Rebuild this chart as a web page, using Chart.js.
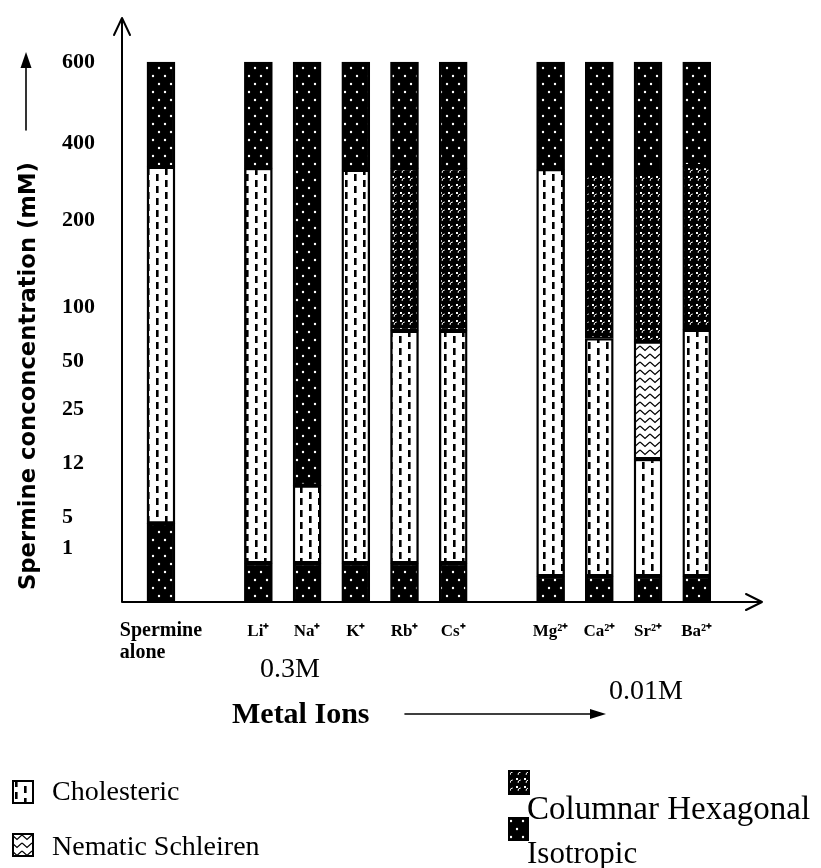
<!DOCTYPE html>
<html>
<head>
<meta charset="utf-8">
<script src="https://cdn.jsdelivr.net/npm/chart.js@4.4.1/dist/chart.umd.min.js"></script>
<style>
html, body { margin: 0; padding: 0; background: #fff; }
#wrap { position: relative; width: 821px; height: 868px; overflow: hidden; color: #000;
  font-family: "Liberation Serif", "Times New Roman", serif; }
#c { position: absolute; left: 0; top: 0; }
.t { position: absolute; white-space: nowrap; line-height: 1; }
.sw { position: absolute; }
#ytitle { left: 27px; top: 376px; transform: translate(-50%, -50%) rotate(-90deg);
  font-family: "DejaVu Sans", sans-serif; font-weight: bold; font-size: 22.7px; }
#conc1 { left: 290px; top: 668px; transform: translate(-50%, -50%); font-size: 28px; }
#conc2 { left: 646px; top: 690px; transform: translate(-50%, -50%); font-size: 28px; }
#metal { left: 232px; top: 713px; transform: translateY(-50%); font-size: 30px; font-weight: bold; }
.lg { font-size: 28px; transform: translateY(-50%); }
.lg2 { font-size: 31px; transform: translateY(-50%); }
</style>
</head>
<body>
<div id="wrap">
  <canvas id="c" width="821" height="868"></canvas>
  <div class="t" id="ytitle">Spermine conconcentration (mM)</div>
  <div class="t" id="conc1">0.3M</div>
  <div class="t" id="conc2">0.01M</div>
  <div class="t" id="metal">Metal Ions</div>

  <canvas class="sw" id="swChol" width="22" height="24" style="left:12px;top:780px"></canvas>
  <div class="t lg" style="left:52px;top:791px">Cholesteric</div>
  <canvas class="sw" id="swNem" width="22" height="24" style="left:12px;top:833px"></canvas>
  <div class="t lg" style="left:52px;top:846px">Nematic Schleiren</div>
  <canvas class="sw" id="swCol" width="22" height="25" style="left:508px;top:770px"></canvas>
  <div class="t lg2" style="left:527px;top:808px;font-size:33px">Columnar Hexagonal</div>
  <canvas class="sw" id="swIso" width="21" height="24" style="left:508px;top:817px"></canvas>
  <div class="t lg2" style="left:527px;top:852px">Isotropic</div>
</div>
<script>
// categories along the x axis ("" = empty slot)
const categories = ["Spermine alone", "", "Li⁺", "Na⁺", "K⁺", "Rb⁺", "Cs⁺", "", "Mg²⁺", "Ca²⁺", "Sr²⁺", "Ba²⁺"];
const yTicks = [1, 5, 12, 25, 50, 100, 200, 400, 600];

// phase boundaries, in mM (null = phase absent)
const isoLowTop = [4.2, null, 0.72, 0.72, 0.72, 0.72, 0.72, null, 0.48, 0.48, 0.48, 0.48];
const cholTop   = [338, null, 335, 9.1, 330, 78, 78, null, 332, 71, 13, 79];
const nemTop    = [null, null, null, null, null, null, null, null, null, null, 68, null];
const colTop    = [null, null, null, null, null, 335, 335, null, null, 325, 325, 340];
const barTop    = [600, null, 600, 600, 600, 600, 600, null, 600, 600, 600, 600];

// the figure's y axis is not linear: height (0..1 of the 600 mark) where each tick sits
const axisLevels = [0.1, 0.157, 0.257, 0.356, 0.446, 0.546, 0.707, 0.85, 1.0];

function toLevel(v) {
    if (v <= yTicks[0]) return v / yTicks[0] * axisLevels[0];
    for (let i = 1; i < yTicks.length; i++) {
        if (v <= yTicks[i]) {
            const f = (v - yTicks[i - 1]) / (yTicks[i] - yTicks[i - 1]);
            return axisLevels[i - 1] + f * (axisLevels[i] - axisLevels[i - 1]);
        }
    }
    return axisLevels[axisLevels.length - 1];
}

// --- patterns ---
function tile(w, h, draw) {
    const c = document.createElement("canvas");
    c.width = w; c.height = h;
    draw(c.getContext("2d"), w, h);
    return c;
}
function dot(g, x, y, r) { g.beginPath(); g.arc(x, y, r, 0, 7); g.fill(); }

const tiles = {
    iso: tile(12, 16, (g, w, h) => {
        g.fillStyle = "#000"; g.fillRect(0, 0, w, h);
        g.fillStyle = "#fff";
        dot(g, 3, 4, 1.2); dot(g, 9, 12, 1.2);
    }),
    chol: tile(18, 12, (g, w, h) => {
        g.fillStyle = "#fff"; g.fillRect(0, 0, w, h);
        g.fillStyle = "#000";
        g.fillRect(3, 0, 2.6, 7);
        g.fillRect(12, 6, 2.6, 7);
        g.fillRect(12, -6, 2.6, 7);
    }),
    nem: tile(10, 8, (g, w, h) => {
        g.fillStyle = "#fff"; g.fillRect(0, 0, w, h);
        g.strokeStyle = "#000"; g.lineWidth = 1.3;
        g.beginPath(); g.moveTo(0, 2); g.lineTo(5, 6.5); g.lineTo(10, 2); g.stroke();
    }),
    col: tile(8, 8, (g, w, h) => {
        g.fillStyle = "#000"; g.fillRect(0, 0, w, h);
        g.fillStyle = "#fff";
        g.fillRect(0, 0, 2, 2);
        g.strokeStyle = "#fff"; g.lineWidth = 1;
        g.beginPath(); g.arc(4.5, 4.5, 2.4, Math.PI * 0.95, Math.PI * 1.55); g.stroke();
    })
};
const ctx = document.getElementById("c").getContext("2d");
const pat = {};
for (const k in tiles) pat[k] = ctx.createPattern(tiles[k], "repeat");

function swatch(id, key) {
    const c = document.getElementById(id), g = c.getContext("2d");
    g.fillStyle = g.createPattern(tiles[key], "repeat");
    g.fillRect(0, 0, c.width, c.height);
    g.strokeStyle = "#000"; g.lineWidth = 2;
    g.strokeRect(1, 1, c.width - 2, c.height - 2);
}
swatch("swChol", "chol");
swatch("swNem", "nem");
swatch("swCol", "col");
swatch("swIso", "iso");

// --- floating segments built from the boundary arrays ---
const segs = { isoLow: [], chol: [], nem: [], col: [], isoHigh: [] };
categories.forEach((c, i) => {
    if (barTop[i] == null) return;
    segs.isoLow.push({ x: i, y: [0, toLevel(isoLowTop[i])] });
    segs.chol.push({ x: i, y: [toLevel(isoLowTop[i]), toLevel(cholTop[i])] });
    let under = cholTop[i];
    if (nemTop[i] != null) { segs.nem.push({ x: i, y: [toLevel(under), toLevel(nemTop[i])] }); under = nemTop[i]; }
    if (colTop[i] != null) { segs.col.push({ x: i, y: [toLevel(under), toLevel(colTop[i])] }); under = colTop[i]; }
    segs.isoHigh.push({ x: i, y: [toLevel(under), toLevel(barTop[i])] });
});

const serif = "'Liberation Serif', 'Times New Roman', serif";

const drawExtras = {
    id: "extras",
    afterDraw(chart) {
        const g = chart.ctx;
        const { left, right, top, bottom } = chart.chartArea;
        g.save();
        g.strokeStyle = "#000"; g.fillStyle = "#000"; g.lineWidth = 2;
        g.lineCap = "round"; g.lineJoin = "round";
        // axes with open arrowheads
        g.beginPath();
        g.moveTo(left, bottom); g.lineTo(left, top);
        g.moveTo(left - 8, top + 17); g.lineTo(left, top); g.lineTo(left + 8, top + 17);
        g.moveTo(left, bottom); g.lineTo(right, bottom);
        g.moveTo(right - 16, bottom - 8); g.lineTo(right, bottom); g.lineTo(right - 16, bottom + 8);
        g.stroke();

        // arrow beside the y title
        g.lineWidth = 1.6;
        g.beginPath(); g.moveTo(26, 130); g.lineTo(26, 64); g.stroke();
        g.beginPath(); g.moveTo(26, 52); g.lineTo(20.5, 68); g.lineTo(31.5, 68); g.closePath(); g.fill();
        // arrow after "Metal Ions"
        g.beginPath(); g.moveTo(405, 714); g.lineTo(594, 714); g.stroke();
        g.beginPath(); g.moveTo(606, 714); g.lineTo(590, 709); g.lineTo(590, 719); g.closePath(); g.fill();

        // first category label, two lines, left aligned
        const xs = chart.scales.x;
        g.font = "bold 20px " + serif;
        const words = categories[0].split(" ");
        const x0 = xs.getPixelForValue(0) - g.measureText(words[0]).width / 2;
        g.textAlign = "left"; g.textBaseline = "middle";
        g.fillText(words[0], x0, 631);
        g.fillText(words[1], x0, 653);
        g.restore();
    }
};

const barStyle = (label, bg) => ({
    label, backgroundColor: bg, borderColor: "#000", borderWidth: 2.4,
    borderSkipped: false, grouped: false, barThickness: 28
});

new Chart(ctx, {
    type: "bar",
    data: {
        datasets: [
            Object.assign(barStyle("Isotropic", pat.iso), { data: segs.isoLow }),
            Object.assign(barStyle("Cholesteric", pat.chol), { data: segs.chol }),
            Object.assign(barStyle("Nematic Schleiren", pat.nem), { data: segs.nem }),
            Object.assign(barStyle("Columnar Hexagonal", pat.col), { data: segs.col }),
            Object.assign(barStyle("Isotropic", pat.iso), { data: segs.isoHigh })
        ]
    },
    options: {
        responsive: false,
        animation: false,
        layout: { padding: { left: 62, right: 59, top: 18, bottom: 0 } },
        plugins: { legend: { display: false }, tooltip: { enabled: false } },
        scales: {
            x: {
                type: "linear", min: -0.8, max: 12.34, offset: false,
                grid: { display: false, drawTicks: false }, border: { display: false },
                afterBuildTicks: s => { s.ticks = categories.map((c, i) => ({ value: i })); },
                afterFit: s => { s.height = 266; },
                ticks: {
                    autoSkip: false, maxRotation: 0, minRotation: 0, padding: 19, color: "#000",
                    font: { family: serif, size: 17, weight: "bold" },
                    callback: (v, i) => (i === 0 ? "" : categories[i])
                }
            },
            y: {
                type: "linear", min: 0, max: 1.0815,
                grid: { display: false, drawTicks: false }, border: { display: false },
                afterBuildTicks: s => { s.ticks = yTicks.map(v => ({ value: toLevel(v) })); },
                afterFit: s => { s.width = 60; },
                ticks: {
                    crossAlign: "far", padding: 0, color: "#000",
                    font: { family: serif, size: 22, weight: "bold" },
                    callback: (v, i) => String(yTicks[i])
                }
            }
        }
    },
    plugins: [drawExtras]
});
</script>
</body>
</html>
